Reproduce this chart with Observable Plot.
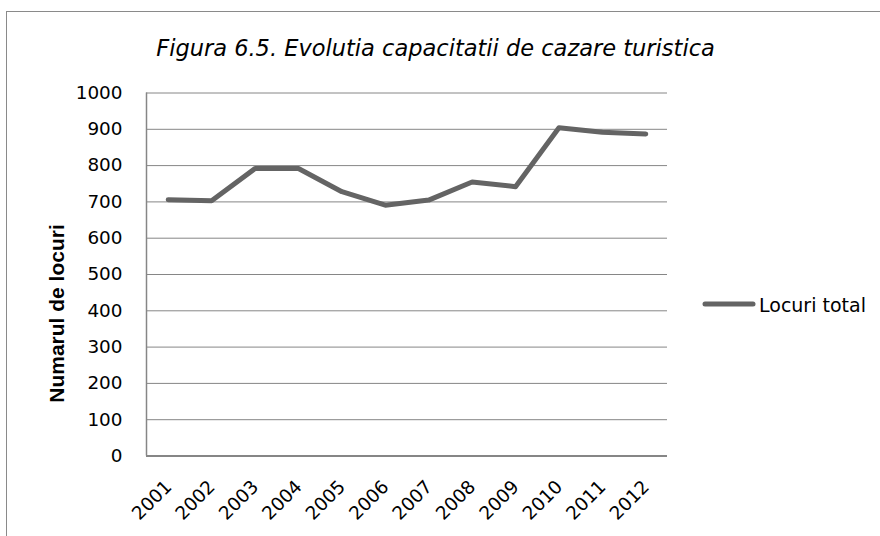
<!DOCTYPE html>
<html>
<head>
<meta charset="utf-8">
<script src="https://cdn.jsdelivr.net/npm/d3@7"></script>
<script src="https://cdn.jsdelivr.net/npm/@observablehq/plot@0.6"></script>
<style>
  body { margin: 0; background: #fff; }
  #wrap { position: relative; width: 880px; height: 536px; overflow: hidden; background: #fff; }
  #border { position: absolute; left: 6px; top: 11px; width: 2000px; height: 2000px; border: 1.5px solid #8a8a8a; box-sizing: border-box; }
  #chart { position: absolute; left: 0; top: 0; }
  #legend { position: absolute; left: 0; top: 0; pointer-events: none; }
</style>
</head>
<body>
<div id="wrap">
  <div id="border"></div>
  <div id="chart"></div>
  <svg id="legend" width="880" height="536"></svg>
</div>
<script>
const years = [2001, 2002, 2003, 2004, 2005, 2006, 2007, 2008, 2009, 2010, 2011, 2012];
const locuri = [706, 703, 792, 792, 728, 691, 705, 755, 742, 904, 892, 887];
const yTicks = [0, 100, 200, 300, 400, 500, 600, 700, 800, 900, 1000];
const chartTitle = "Figura 6.5. Evolutia capacitatii de cazare turistica";
const yTitle = "Numarul de locuri";
const seriesName = "Locuri total";

const data = years.map((year, i) => ({year, value: locuri[i]}));
const lineColor = "#646464";
const gridColor = "#868686";

const chart = Plot.plot({
  width: 880,
  height: 536,
  marginLeft: 146,
  marginRight: 213,
  marginTop: 92.5,
  marginBottom: 80.5,
  style: {fontFamily: "'DejaVu Sans'", fontSize: "18.4px", color: "#000", background: "transparent", overflow: "visible"},
  x: {type: "linear", domain: [2000.5, 2012.5], axis: null},
  y: {domain: [0, 1000]},
  marks: [
    Plot.gridY(yTicks, {stroke: gridColor, strokeOpacity: 1, strokeWidth: 1}),
    Plot.ruleX([2000.5], {stroke: gridColor, strokeWidth: 1.5}),
    Plot.ruleY([0], {stroke: gridColor, strokeWidth: 1.8}),
    Plot.axisY(yTicks, {tickSize: 0, tickPadding: 24, label: null, fontSize: 18.4, fill: "#000", tickFormat: d => String(d)}),
    Plot.text(years, {x: d => d, frameAnchor: "bottom", text: d => String(d), rotate: -45, textAnchor: "end", lineAnchor: "bottom", dx: 4.5, dy: 32, fontSize: 18.4, fill: "#000"}),
    Plot.lineY(data, {x: "year", y: "value", stroke: lineColor, strokeWidth: 5, strokeLinejoin: "round", strokeLinecap: "round"}),
    Plot.text([chartTitle], {frameAnchor: "top", dx: 28.5, dy: -37.5, lineAnchor: "bottom", fontStyle: "italic", fontSize: 22.5, fill: "#000"}),
    Plot.text([yTitle], {frameAnchor: "left", rotate: -90, dx: -83, dy: 39, lineAnchor: "bottom", textAnchor: "middle", fontWeight: "bold", fontFamily: "'Liberation Sans'", fontSize: 21, fill: "#000"})
  ]
});
document.getElementById("chart").appendChild(chart);

// Legend
const lg = d3.select("#legend");
lg.append("line").attr("x1", 705).attr("x2", 753).attr("y1", 304).attr("y2", 304)
  .attr("stroke", lineColor).attr("stroke-width", 5).attr("stroke-linecap", "round");
lg.append("text").attr("x", 759).attr("y", 311.5).attr("font-family", "'DejaVu Sans'")
  .attr("font-size", 19).attr("fill", "#000").text(seriesName);
</script>
</body>
</html>
